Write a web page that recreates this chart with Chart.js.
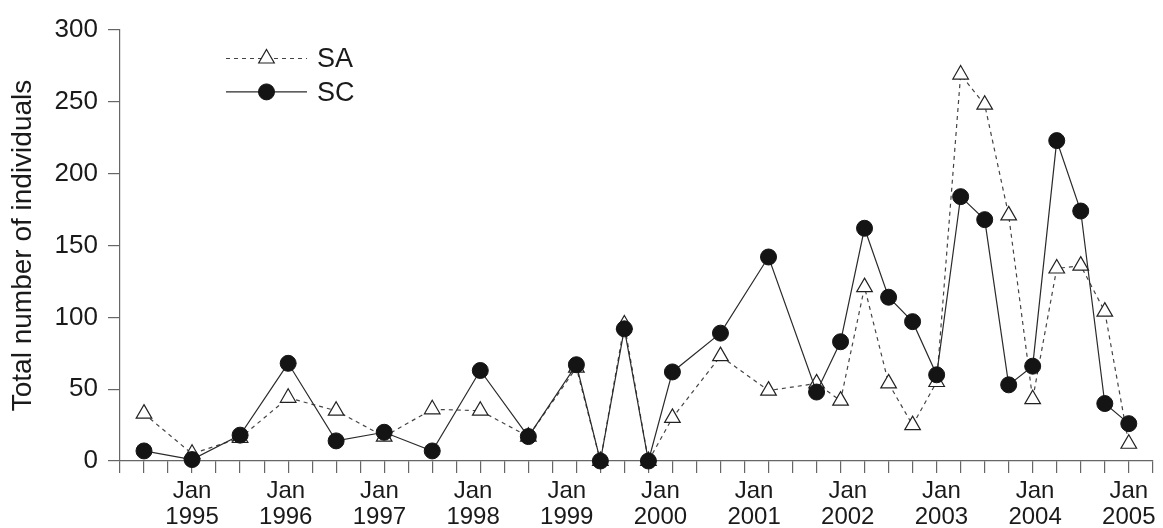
<!DOCTYPE html>
<html>
<head>
<meta charset="utf-8">
<script src="https://cdn.jsdelivr.net/npm/chart.js@4.4.1/dist/chart.umd.min.js"></script>
<style>
  html, body { margin: 0; padding: 0; background: #fff; }
  #wrap { width: 1163px; height: 528px; }
</style>
</head>
<body>
<div id="wrap"><canvas id="chart-individuals" width="1163" height="528"></canvas></div>
<script>
// sampling times (decimal years)
const sampleDates = [
  1994.487, 1995.000, 1995.513, 1996.026, 1996.538, 1997.051, 1997.564, 1998.077,
  1998.590, 1999.103, 1999.359, 1999.615, 1999.872, 2000.128, 2000.641, 2001.154,
  2001.667, 2001.923, 2002.179, 2002.436, 2002.692, 2002.949, 2003.205, 2003.462,
  2003.718, 2003.974, 2004.231, 2004.487, 2004.744, 2005.000
]
const saCounts = [
  33, 5, 16, 44, 35, 17, 36, 35,
  17, 65, 0, 95, 0, 30, 73, 49,
  54, 42, 121, 54, 25, 55, 269, 248,
  171, 43, 134, 136, 104, 12
]
const scCounts = [
  7, 1, 18, 68, 14, 20, 7, 63,
  17, 67, 0, 92, 0, 62, 89, 142,
  48, 83, 162, 114, 97, 60, 184, 168,
  53, 66, 223, 174, 40, 26
]
const yearLabels = [1995, 1996, 1997, 1998, 1999, 2000, 2001, 2002, 2003, 2004, 2005]
const yTicks = [0, 50, 100, 150, 200, 250, 300]

const axisStart = 1994.2308
const axisEnd = 2005.2564
const minorStep = 1 / 3.9

const FONT = "'Liberation Sans', Arial, sans-serif"
const INK = "#1a1a1a"
const AXIS = "#666"

const toPoints = vals => vals.map((v, i) => ({ x: sampleDates[i], y: v }))

// legend sits inside the plot, top left, line + marker + name
const insideLegend = {
  id: "insideLegend",
  afterDraw(chart) {
    const { ctx, chartArea } = chart
    chart.data.datasets.forEach((ds, i) => {
      const y = chartArea.top + 28.5 + i * 33.4
      const x0 = chartArea.left + 106
      const x1 = chartArea.left + 187
      ctx.save()
      ctx.strokeStyle = ds.borderColor
      ctx.lineWidth = ds.borderWidth
      ctx.setLineDash(ds.borderDash || [])
      ctx.beginPath()
      ctx.moveTo(x0, y)
      ctx.lineTo(x1, y)
      ctx.stroke()
      ctx.setLineDash([])
      ctx.fillStyle = ds.pointBackgroundColor
      ctx.strokeStyle = ds.pointBorderColor
      ctx.lineWidth = ds.pointBorderWidth
      Chart.helpers.drawPoint(ctx, {
        pointStyle: ds.pointStyle, radius: ds.pointRadius, rotation: 0, borderWidth: ds.pointBorderWidth
      }, (x0 + x1) / 2, y)
      ctx.fillStyle = INK
      ctx.font = "27px " + FONT
      ctx.textBaseline = "middle"
      ctx.textAlign = "left"
      ctx.fillText(ds.label, x1 + 10, y + 1.5)
      ctx.restore()
    })
  }
}

new Chart(document.getElementById("chart-individuals"), {
  type: "line",
  data: {
    datasets: [{
      label: "SA",
      data: toPoints(saCounts),
      borderColor: "#444",
      borderWidth: 1.2,
      borderDash: [4, 4],
      pointStyle: "triangle",
      pointRadius: 9,
      pointBackgroundColor: "#fff",
      pointBorderColor: "#222",
      pointBorderWidth: 1.2,
      tension: 0,
      clip: false,
      order: 1
    }, {
      label: "SC",
      data: toPoints(scCounts),
      borderColor: "#2a2a2a",
      borderWidth: 1.2,
      pointStyle: "circle",
      pointRadius: 8,
      pointBackgroundColor: "#141414",
      pointBorderColor: "#141414",
      pointBorderWidth: 1,
      tension: 0,
      clip: false,
      order: 0
    }]
  },
  options: {
    responsive: false,
    animation: false,
    layout: { padding: { top: 30, right: 7, left: 0, bottom: 0 } },
    plugins: { legend: { display: false }, tooltip: { enabled: false } },
    scales: {
      x: {
        type: "linear",
        position: "bottom",
        weight: 0,
        min: axisStart,
        max: axisEnd,
        afterBuildTicks: scale => {
          const ticks = []
          for (let k = 0; k <= 43; k++) ticks.push({ value: axisStart + k * minorStep })
          scale.ticks = ticks
        },
        afterFit: scale => { scale.height = 12 },
        ticks: { display: false },
        grid: { drawOnChartArea: false, tickLength: 12, color: AXIS, lineWidth: 1.2 },
        border: { color: AXIS, width: 1.2 }
      },
      years: {
        type: "linear",
        position: "bottom",
        axis: "x",
        weight: 1,
        min: axisStart,
        max: axisEnd,
        afterBuildTicks: scale => { scale.ticks = yearLabels.map(v => ({ value: v })) },
        afterFit: scale => { scale.height = 55 },
        ticks: {
          autoSkip: false,
          maxRotation: 0,
          padding: 5,
          color: INK,
          font: { family: FONT, size: 24, lineHeight: 1.1 },
          callback: v => ["Jan", String(v)]
        },
        grid: { display: false, drawTicks: false },
        border: { display: false }
      },
      y: {
        min: 0,
        max: 300,
        afterBuildTicks: scale => { scale.ticks = yTicks.map(v => ({ value: v })) },
        afterFit: scale => { scale.width = 120 },
        ticks: { padding: 10, color: INK, font: { family: FONT, size: 26 } },
        grid: { drawOnChartArea: false, tickLength: 12, color: AXIS, lineWidth: 1.2 },
        border: { color: AXIS, width: 1.2 },
        title: {
          display: true,
          text: "Total number of individuals",
          color: INK,
          font: { family: FONT, size: 28 },
          padding: { top: 6, bottom: 0 }
        }
      }
    }
  },
  plugins: [insideLegend]
})
</script>
</body>
</html>
